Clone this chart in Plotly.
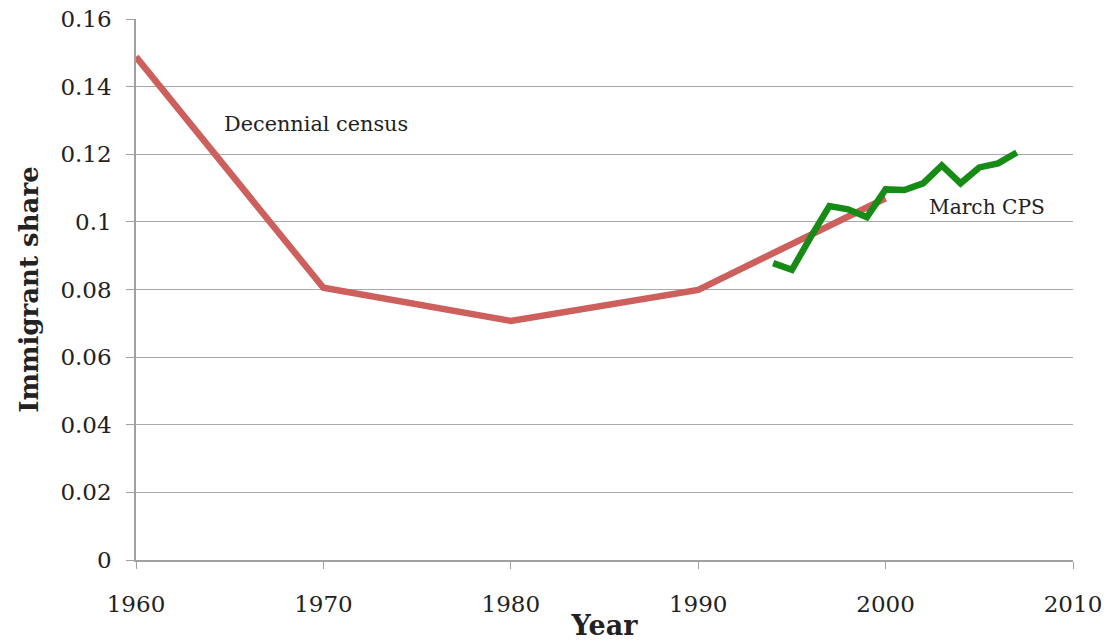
import plotly.graph_objects as go

census_years = [1960, 1970, 1980, 1990, 2000]
census_share = [0.1488, 0.0805, 0.0707, 0.0799, 0.107]

cps_years = [1994, 1995, 1996, 1997, 1998, 1999, 2000, 2001, 2002, 2003, 2004, 2005, 2006, 2007]
cps_share = [0.0878, 0.0858, 0.0955, 0.1047, 0.1037, 0.1014, 0.1096, 0.1094, 0.1114, 0.1167, 0.1114, 0.1161, 0.1173, 0.1205]

y_ticks = [0, 0.02, 0.04, 0.06, 0.08, 0.1, 0.12, 0.14, 0.16]
y_tick_text = ["0", "0.02", "0.04", "0.06", "0.08", "0.1", "0.12", "0.14", "0.16"]
x_ticks = [1960, 1970, 1980, 1990, 2000, 2010]

FONT = "DejaVu Serif"

fig = go.Figure()
fig.add_trace(go.Scatter(x=census_years, y=census_share, mode="lines",
                         line=dict(color="#cd5f5c", width=6.5), showlegend=False))
fig.add_trace(go.Scatter(x=cps_years, y=cps_share, mode="lines",
                         line=dict(color="#168c16", width=6.5), showlegend=False))

fig.add_annotation(x=1964.6, y=0.129, text="Decennial census", showarrow=False,
                   xanchor="left", yanchor="middle", font=dict(family=FONT, size=20.8, color="#222"))
fig.add_annotation(x=2002.2, y=0.1045, text="March CPS", showarrow=False,
                   xanchor="left", yanchor="middle", font=dict(family=FONT, size=20.2, color="#222"))

fig.update_layout(
    width=1110, height=642,
    margin=dict(l=136, r=37, t=19, b=82),
    paper_bgcolor="white", plot_bgcolor="white",
    font=dict(family=FONT, size=20, color="#222"),
    xaxis=dict(range=[1960, 2010], tickvals=x_ticks, showgrid=False,
               showline=True, linecolor="#a0a0a0", linewidth=1.5,
               ticks="outside", ticklen=7, tickcolor="#a0a0a0",
               tickfont=dict(family=FONT, size=23), automargin=False,
               ticklabelstandoff=16, ticklabeloverflow="allow",
               title=dict(text="<b>Year</b>", font=dict(family=FONT, size=27), standoff=0),
               zeroline=False),
    yaxis=dict(range=[0, 0.16], tickvals=y_ticks, ticktext=y_tick_text,
               showgrid=True, gridcolor="#a8a8a8", gridwidth=1.2,
               showline=True, linecolor="#a0a0a0", linewidth=1.5,
               ticks="outside", ticklen=8, tickcolor="#a0a0a0",
               tickfont=dict(family=FONT, size=23), automargin=False,
               ticklabelstandoff=10, ticklabeloverflow="allow",
               title=dict(text="<b>Immigrant share</b>", font=dict(family=FONT, size=26), standoff=14),
               zeroline=False),
)

fig.write_html("out.html", config={"displayModeBar": False},
               post_script="document.body.style.margin='0';")
